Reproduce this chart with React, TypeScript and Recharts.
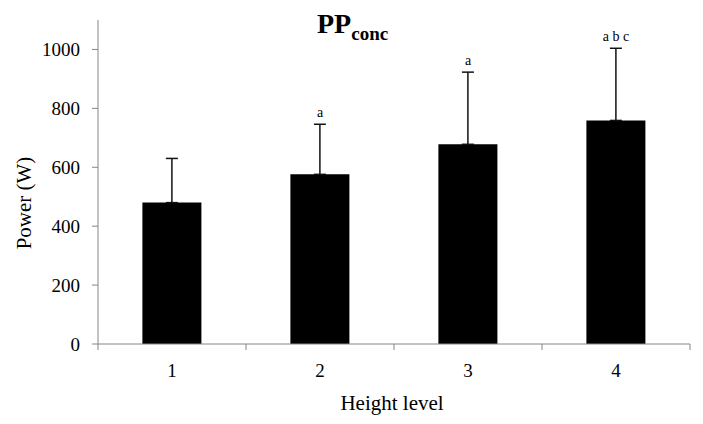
import { ComposedChart, Bar, Line, XAxis, YAxis, ErrorBar, LabelList } from 'recharts'

// ── Datos ────────────────────────────────────────────────────────────────────

const levels = ['1', '2', '3', '4']
const meanPower = [480, 576, 678, 759]
const sdPower = [150, 170, 245, 245]
const sigLetters = ['', 'a', 'a', 'a b c']
const yTicks = [0, 200, 400, 600, 800, 1000]

const data = levels.map((level, i) => ({
  level,
  mean: meanPower[i],
  err: [0, sdPower[i]],
  upper: meanPower[i] + sdPower[i],
  sig: sigLetters[i],
}))

const FONT = '"Liberation Serif", "Times New Roman", serif'
const AXIS = '#868686'

document.body.style.margin = '0'

// ── Tick del eje X: marcas entre categorías (estilo Excel) ──────────────────

function CategoryTick(props: any) {
  const { x, y, payload, index, width, visibleTicksCount } = props
  const band = width / visibleTicksCount
  const y0 = y - 20
  const last = index === visibleTicksCount - 1
  return (
    <g>
      <line x1={x - band / 2} x2={x - band / 2} y1={y0} y2={y0 + 6} stroke={AXIS} />
      {last && <line x1={x + band / 2} x2={x + band / 2} y1={y0} y2={y0 + 6} stroke={AXIS} />}
      <text x={x} y={y} dy="0.71em" textAnchor="middle" fontSize={19} fontFamily={FONT} fill="#000">
        {payload.value}
      </text>
    </g>
  )
}

// ── Etiqueta de significancia sobre la barra de error ───────────────────────

function SigLabel(props: any) {
  const { x, y, value } = props
  if (!value) return null
  return (
    <text x={x} y={y - 7} textAnchor="middle" fontSize={14} fontFamily={FONT} fill="#000">
      {value}
    </text>
  )
}

export default function App() {
  return (
    <div style={{ position: 'relative', width: 703, height: 424, background: '#fff' }}>
      <ComposedChart
        width={703}
        height={424}
        data={data}
        margin={{ top: 20, right: 13, bottom: 0, left: 0 }}
        barCategoryGap="30%"
      >
        <XAxis
          dataKey="level"
          height={80}
          axisLine={{ stroke: AXIS }}
          tickLine={false}
          tickSize={0}
          tickMargin={20}
          tick={<CategoryTick />}
        />
        <YAxis
          width={98}
          domain={[0, 1100]}
          ticks={yTicks}
          tickSize={6}
          tickMargin={12}
          axisLine={{ stroke: AXIS }}
          tickLine={{ stroke: AXIS }}
          tick={{ fill: '#000', fontSize: 19, fontFamily: FONT }}
        />
        <Bar dataKey="mean" fill="#000" isAnimationActive={false}>
          <ErrorBar dataKey="err" width={6} stroke="#111" strokeWidth={1.5} direction="y" />
        </Bar>
        <Line
          dataKey="upper"
          stroke="none"
          dot={false}
          activeDot={false}
          isAnimationActive={false}
        >
          <LabelList dataKey="sig" content={<SigLabel />} />
        </Line>
      </ComposedChart>

      <svg
        width={703}
        height={424}
        style={{ position: 'absolute', left: 0, top: 0, pointerEvents: 'none' }}
        fontFamily={FONT}
      >
        <text x={317} y={33} fontSize={28} fontWeight="bold" fill="#000">
          PP<tspan fontSize={19} dy={7}>conc</tspan>
        </text>
        <text
          x={0}
          y={0}
          transform="translate(31 203) rotate(-90)"
          textAnchor="middle"
          fontSize={21}
          fill="#000"
        >
          Power (W)
        </text>
        <text x={392} y={410} textAnchor="middle" fontSize={21} fill="#000">
          Height level
        </text>
      </svg>
    </div>
  )
}
